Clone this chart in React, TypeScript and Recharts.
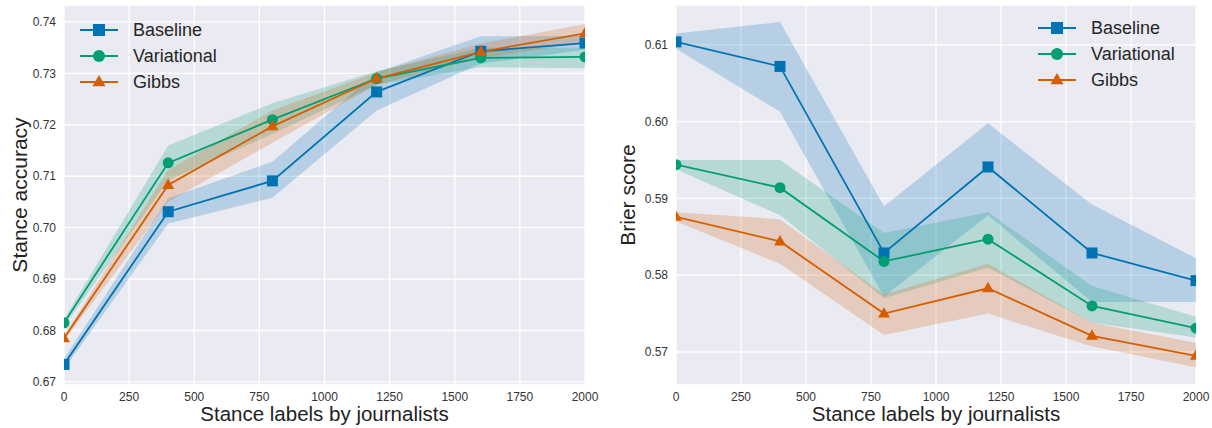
import { ComposedChart, Line, Area, XAxis, YAxis, CartesianGrid, Legend, Label } from 'recharts'

const FONT = '"Liberation Sans", Arial, sans-serif'
const BLUE = '#0173b2'
const GREEN = '#029e73'
const ORANGE = '#d55e00'
const BG = '#eaeaf2'

const labels = [0, 400, 800, 1200, 1600, 2000]
const xTicks = [0, 250, 500, 750, 1000, 1250, 1500, 1750, 2000]
const seriesNames = ['Baseline', 'Variational', 'Gibbs']

// stance accuracy (left)
const accBaseline = [0.6734, 0.7031, 0.7091, 0.7264, 0.7343, 0.7359]
const accBaselineLo = [0.6725, 0.7008, 0.7058, 0.7228, 0.7319, 0.7346]
const accBaselineHi = [0.6745, 0.7057, 0.7128, 0.7302, 0.7372, 0.7373]
const accVariational = [0.6815, 0.7126, 0.7210, 0.7290, 0.7330, 0.7332]
const accVariationalLo = [0.6808, 0.7092, 0.7182, 0.7278, 0.7312, 0.7310]
const accVariationalHi = [0.6822, 0.7160, 0.7242, 0.7304, 0.7350, 0.7350]
const accGibbs = [0.6785, 0.7083, 0.7197, 0.7290, 0.7342, 0.7378]
const accGibbsLo = [0.6780, 0.7050, 0.7165, 0.7278, 0.7330, 0.7360]
const accGibbsHi = [0.6790, 0.7112, 0.7228, 0.7302, 0.7358, 0.7396]
const accTicks = [0.67, 0.68, 0.69, 0.7, 0.71, 0.72, 0.73, 0.74]

// brier score (right)
const brierBaseline = [0.6104, 0.6072, 0.5829, 0.5941, 0.5829, 0.5793]
const brierBaselineLo = [0.6095, 0.6013, 0.5772, 0.5878, 0.5765, 0.5765]
const brierBaselineHi = [0.6115, 0.6130, 0.5890, 0.5998, 0.5892, 0.5822]
const brierVariational = [0.5944, 0.5914, 0.5818, 0.5847, 0.5760, 0.5731]
const brierVariationalLo = [0.5938, 0.5878, 0.5770, 0.5810, 0.5738, 0.5719]
const brierVariationalHi = [0.5950, 0.5950, 0.5855, 0.5882, 0.5786, 0.5746]
const brierGibbs = [0.5876, 0.5844, 0.5750, 0.5783, 0.5721, 0.5695]
const brierGibbsLo = [0.5870, 0.5815, 0.5722, 0.5750, 0.5707, 0.5680]
const brierGibbsHi = [0.5882, 0.5873, 0.5775, 0.5815, 0.5738, 0.5712]
const brierTicks = [0.57, 0.58, 0.59, 0.6, 0.61]

const buildRows = (
  mid: number[][],
  lo: number[][],
  hi: number[][],
) =>
  labels.map((x, i) => ({
    x,
    b: mid[0][i],
    bBand: [lo[0][i], hi[0][i]],
    v: mid[1][i],
    vBand: [lo[1][i], hi[1][i]],
    g: mid[2][i],
    gBand: [lo[2][i], hi[2][i]],
  }))

const accRows = buildRows(
  [accBaseline, accVariational, accGibbs],
  [accBaselineLo, accVariationalLo, accGibbsLo],
  [accBaselineHi, accVariationalHi, accGibbsHi],
)
const brierRows = buildRows(
  [brierBaseline, brierVariational, brierGibbs],
  [brierBaselineLo, brierVariationalLo, brierGibbsLo],
  [brierBaselineHi, brierVariationalHi, brierGibbsHi],
)

function Marker({ kind, cx, cy, color, s }: any) {
  if (kind === 'square') return <rect x={cx - s / 2} y={cy - s / 2} width={s} height={s} fill={color} />
  if (kind === 'circle') return <circle cx={cx} cy={cy} r={s / 2} fill={color} />
  const h = s * 0.95
  return (
    <polygon
      points={`${cx},${cy - h * 0.62} ${cx - s / 2 - 0.5},${cy + h * 0.38} ${cx + s / 2 + 0.5},${cy + h * 0.38}`}
      fill={color}
    />
  )
}

const makeDot = (kind: string, color: string) => (p: any) => (
  <Marker key={`${kind}-${p.index}`} kind={kind} cx={p.cx} cy={p.cy} color={color} s={11} />
)

const legendItems = [
  { name: seriesNames[0], color: BLUE, kind: 'square' },
  { name: seriesNames[1], color: GREEN, kind: 'circle' },
  { name: seriesNames[2], color: ORANGE, kind: 'triangle' },
]

function LegendBox() {
  return (
    <div style={{ fontFamily: FONT, fontSize: 18, color: '#262626' }}>
      {legendItems.map((it) => (
        <div key={it.name} style={{ display: 'flex', alignItems: 'center', height: 26 }}>
          <svg width={40} height={16}>
            <line x1={1} x2={39} y1={8} y2={8} stroke={it.color} strokeWidth={2} />
            <Marker kind={it.kind} cx={20} cy={8} color={it.color} s={12} />
          </svg>
          <span style={{ marginLeft: 14, lineHeight: '26px' }}>{it.name}</span>
        </div>
      ))}
    </div>
  )
}

function Panel({ rows, domain, ticks, yLabel, yAxisWidth, width, yLabelX, legendLeft, legendTop }: any) {
  return (
    <ComposedChart
      width={width}
      height={428}
      data={rows}
      margin={{ top: 5, right: 15, left: 0, bottom: 0 }}
      style={{ fontFamily: FONT }}
    >
      <CartesianGrid fill={BG} stroke="#ffffff" strokeWidth={1.3} />
      <XAxis
        dataKey="x"
        type="number"
        domain={[0, 2000]}
        ticks={xTicks}
        allowDataOverflow
        axisLine={false}
        tickLine={false}
        tickSize={0}
        tickMargin={7}
        height={43}
        tick={{ fill: '#333', fontSize: 12, fontFamily: FONT }}
      >
        <Label
          content={({ viewBox }: any) => (
            <text
              x={viewBox.x + viewBox.width / 2}
              y={viewBox.y + viewBox.height - 7}
              textAnchor="middle"
              fontSize={20.5}
              fontFamily={FONT}
              fill="#222"
            >
              Stance labels by journalists
            </text>
          )}
        />
      </XAxis>
      <YAxis
        type="number"
        domain={domain}
        ticks={ticks}
        allowDataOverflow
        axisLine={false}
        tickLine={false}
        tickSize={0}
        tickMargin={8}
        width={yAxisWidth}
        tickFormatter={(v: number) => v.toFixed(2)}
        tick={{ fill: '#333', fontSize: 12, fontFamily: FONT }}
      >
        <Label
          content={({ viewBox }: any) => {
            const cy = viewBox.y + viewBox.height / 2
            return (
              <text
                x={yLabelX}
                y={cy}
                transform={`rotate(-90 ${yLabelX} ${cy})`}
                textAnchor="middle"
                dominantBaseline="central"
                fontSize={21}
                fontFamily={FONT}
                fill="#222"
              >
                {yLabel}
              </text>
            )
          }}
        />
      </YAxis>
      <Legend
        layout="horizontal"
        align="center"
        verticalAlign="middle"
        content={() => <LegendBox />}
        wrapperStyle={{ position: 'absolute', left: legendLeft, top: legendTop, width: 'auto' }}
      />
      <Area dataKey="bBand" type="linear" stroke="none" fill={BLUE} fillOpacity={0.22} isAnimationActive={false} legendType="none" />
      <Area dataKey="vBand" type="linear" stroke="none" fill={GREEN} fillOpacity={0.22} isAnimationActive={false} legendType="none" />
      <Area dataKey="gBand" type="linear" stroke="none" fill={ORANGE} fillOpacity={0.22} isAnimationActive={false} legendType="none" />
      <Line dataKey="b" name={seriesNames[0]} type="linear" stroke={BLUE} strokeWidth={1.8} dot={makeDot('square', BLUE)} isAnimationActive={false} />
      <Line dataKey="v" name={seriesNames[1]} type="linear" stroke={GREEN} strokeWidth={1.8} dot={makeDot('circle', GREEN)} isAnimationActive={false} />
      <Line dataKey="g" name={seriesNames[2]} type="linear" stroke={ORANGE} strokeWidth={1.8} dot={makeDot('triangle', ORANGE)} isAnimationActive={false} />
    </ComposedChart>
  )
}

export default function App() {
  return (
    <div style={{ position: 'absolute', left: 0, top: 0, width: 1212, height: 428, background: '#fff' }}>
      <div style={{ position: 'absolute', left: 0, top: 0 }}>
        <Panel
          rows={accRows}
          domain={[0.6694, 0.7433]}
          ticks={accTicks}
          yLabel="Stance accuracy"
          yAxisWidth={64}
          width={600}
          yLabelX={19}
          legendLeft={79}
          legendTop={17}
        />
      </div>
      <div style={{ position: 'absolute', left: 600, top: 0 }}>
        <Panel
          rows={brierRows}
          domain={[0.5657, 0.6152]}
          ticks={brierTicks}
          yLabel="Brier score"
          yAxisWidth={76}
          width={611}
          yLabelX={27}
          legendLeft={437}
          legendTop={15}
        />
      </div>
    </div>
  )
}
